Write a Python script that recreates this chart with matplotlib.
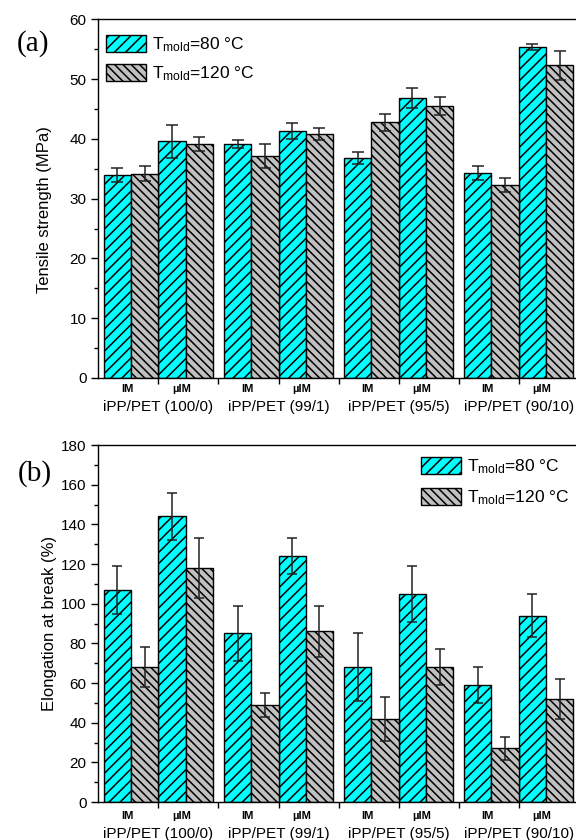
import matplotlib
matplotlib.use("Agg")
import matplotlib.pyplot as plt
import numpy as np
from matplotlib.ticker import MultipleLocator, AutoMinorLocator

plt.rcParams['font.family'] = ['Liberation Sans', 'DejaVu Sans']
plt.rcParams['mathtext.fontset'] = 'custom'
plt.rcParams['mathtext.rm'] = 'Liberation Sans'
plt.rcParams['mathtext.it'] = 'Liberation Sans:italic'
plt.rcParams['mathtext.bf'] = 'Liberation Sans:bold'
plt.rcParams['hatch.linewidth'] = 1.1

# data: order is (group, method) -> 100/0 IM, 100/0 uIM, 99/1 IM, ...
groups = ['iPP/PET (100/0)', 'iPP/PET (99/1)', 'iPP/PET (95/5)', 'iPP/PET (90/10)']
methods = ['IM', 'µIM']
series = ['T$_{\\mathrm{mold}}$=80 °C', 'T$_{\\mathrm{mold}}$=120 °C']

tensile_80 = [34.0, 39.6, 39.2, 41.3, 36.8, 46.9, 34.3, 55.4]
tensile_80_err = [1.2, 2.8, 0.7, 1.3, 1.0, 1.7, 1.2, 0.5]
tensile_120 = [34.2, 39.2, 37.1, 40.8, 42.8, 45.5, 32.3, 52.3]
tensile_120_err = [1.3, 1.2, 2.0, 1.0, 1.4, 1.5, 1.2, 2.4]

elong_80 = [107, 144, 85, 124, 68, 105, 59, 94]
elong_80_err = [12, 12, 14, 9, 17, 14, 9, 11]
elong_120 = [68, 118, 49, 86, 42, 68, 27, 52]
elong_120_err = [10, 15, 6, 13, 11, 9, 6, 10]

# bar layout: 4 bars per group, unit width, small gap between groups
pitch = 4.4
g_idx = np.repeat(np.arange(len(groups)), len(methods))
m_idx = np.tile(np.arange(len(methods)), len(groups))
x80 = g_idx * pitch + m_idx * 2
x120 = x80 + 1
centers = np.arange(len(groups)) * pitch + 1.5
bounds = np.arange(len(groups) - 1) * pitch + 3.7
pair_x = x80 + 0.5

fig = plt.figure(figsize=(5.76, 8.4), dpi=100)
ax1 = fig.add_axes([0.1693, 0.55, 0.837, 0.4268])
ax2 = fig.add_axes([0.1693, 0.0452, 0.837, 0.425])


def panel(ax, v80, e80, v120, e120, ymax, major, ylabel, cap, lab_off, grp_off):
    ax.bar(x80, v80, width=1.0, color='#00FFFF', edgecolor='black',
           linewidth=1.0, hatch='///', label=series[0], zorder=2)
    ax.bar(x120, v120, width=1.0, color='#C0C0C0', edgecolor='black',
           linewidth=1.0, hatch='\\' * 4, label=series[1], zorder=2)
    ax.errorbar(x80, v80, yerr=e80, fmt='none', ecolor='#222222',
                elinewidth=1.1, capsize=cap, capthick=1.1, zorder=3)
    ax.errorbar(x120, v120, yerr=e120, fmt='none', ecolor='#222222',
                elinewidth=1.1, capsize=cap, capthick=1.1, zorder=3)
    ax.set_xlim(-0.73, x120[-1] + 0.5 + 0.23)
    ax.set_ylim(0, ymax)
    ax.yaxis.set_major_locator(MultipleLocator(major))
    ax.yaxis.set_minor_locator(AutoMinorLocator(2))
    ax.set_xticks(np.concatenate([centers, bounds]))
    ax.set_xticklabels([])
    ax.tick_params(axis='x', direction='out', length=4.5, width=1.0)
    ax.tick_params(axis='y', which='major', direction='out', length=5,
                   width=1.0, labelsize=11, pad=3)
    ax.tick_params(axis='y', which='minor', direction='out', length=3, width=1.0)
    for s in ax.spines.values():
        s.set_linewidth(1.0)
    ax.set_ylabel(ylabel, fontsize=12)
    for i, x in enumerate(pair_x):
        ax.annotate(methods[m_idx[i]], xy=(x - 0.15, 0),
                    xycoords=('data', 'axes fraction'),
                    xytext=(0, lab_off), textcoords='offset points',
                    ha='center', va='center', fontsize=8, fontweight='bold')
    for c, g in zip(centers, groups):
        ax.annotate(g, xy=(c, 0), xycoords=('data', 'axes fraction'),
                    xytext=(0, grp_off), textcoords='offset points',
                    ha='center', va='center', fontsize=11)


panel(ax1, tensile_80, tensile_80_err, tensile_120, tensile_120_err,
      60, 10, 'Tensile strength (MPa)', 4.5, -7.8, -21.2)
ax1.yaxis.set_label_coords(-0.095, 0.47)
panel(ax2, elong_80, elong_80_err, elong_120, elong_120_err,
      180, 20, 'Elongation at break (%)', 3.3, -10.2, -23)
ax2.yaxis.set_label_coords(-0.085, 0.5)

leg_kw = dict(frameon=False, fontsize=12.5, handlelength=2.3,
              handleheight=1.15, handletextpad=0.35,
              borderpad=0, borderaxespad=0, loc='upper left')
ax1.legend(bbox_to_anchor=(0.0176, 0.9575), labelspacing=0.59, **leg_kw)
ax2.legend(bbox_to_anchor=(0.671, 0.9666), labelspacing=0.68, **leg_kw)

fig.text(33 / 576, 1 - 44 / 840, '(a)', fontsize=21, family='Liberation Serif',
         ha='center', va='center')
fig.text(35 / 576, 1 - 474 / 840, '(b)', fontsize=21, family='Liberation Serif',
         ha='center', va='center')

fig.savefig('out.png', dpi=100)
